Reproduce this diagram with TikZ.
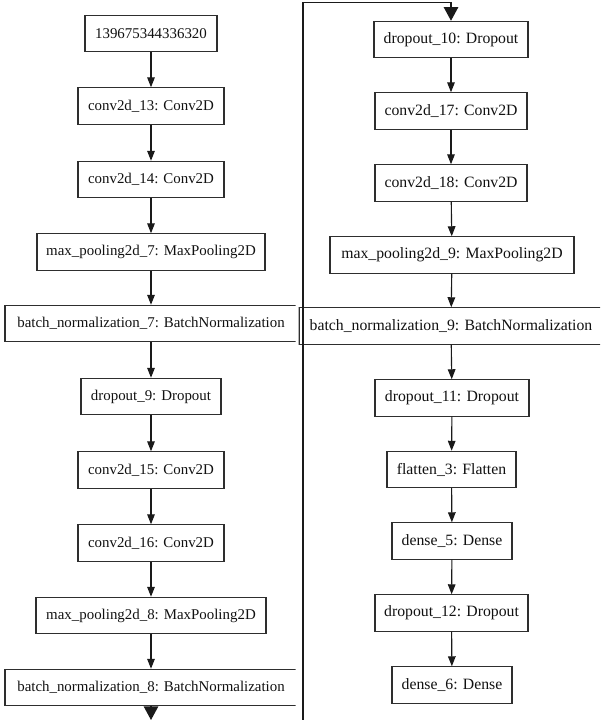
\documentclass[tikz,border=0pt]{standalone}
\usepackage{fontspec}
\setmainfont{Liberation Serif}
\newfontfamily\graphfont{Liberation Serif}
\usepackage{tikz}
\usetikzlibrary{arrows.meta}
\definecolor{GraphInk}{HTML}{111111}
\definecolor{GraphBorder}{HTML}{2E2E2E}
\definecolor{GraphEdge}{HTML}{1A1A1A}
\newcommand{\LeftLabel}{\graphfont\fontsize{10.6}{12.0}\selectfont}
\newcommand{\RightLabel}{\graphfont\fontsize{11.2}{12.6}\selectfont}
\tikzset{
  layer box/.style={draw=GraphBorder,line width=0.75pt,fill=white,text=GraphInk,
    inner sep=0pt,minimum height=0.91cm},
  flow edge/.style={draw=GraphEdge,line width=0.8pt,
    -{Triangle[length=0.25cm,width=0.19cm]}},
  cut edge/.style={draw=GraphEdge,line width=0.9pt,
    -{Triangle[length=0.34cm,width=0.36cm]}}
}

\begin{document}
\begin{tikzpicture}[x=0.025cm,y=-0.025cm]
  % pixel grid of the 600 x 720 collage, y running down
  \path[use as bounding box] (0,0) rectangle (600,720);

  \def\pxu{0.025cm}
  \def\colL{151}
  \def\colR{451}

  \newcommand{\layer}[5]{%
    \node[layer box,minimum width={#4*\pxu}] (#1) at (#2,#3) {#5};%
  }

  % left half of the model graph, cropped at its right side
  \begin{scope}[font=\LeftLabel]
    \clip (0,0) rectangle (295.5,720);
    \layer{inp}{\colL}{33.5}{132}{139675344336320}
    \layer{cA}{\colL}{106}{146}{conv2d\_13: Conv2D}
    \layer{cB}{\colL}{179.5}{146}{conv2d\_14: Conv2D}
    \layer{mpA}{\colL}{252}{228}{max\_pooling2d\_7: MaxPooling2D}
    \layer{bnA}{\colL}{323.5}{292}{batch\_normalization\_7: BatchNormalization}
    \layer{dA}{\colL}{396.5}{140}{dropout\_9: Dropout}
    \layer{cC}{\colL}{470}{146}{conv2d\_15: Conv2D}
    \layer{cD}{\colL}{543}{146}{conv2d\_16: Conv2D}
    \layer{mpB}{\colL}{615.5}{230}{max\_pooling2d\_8: MaxPooling2D}
    \layer{bnB}{\colL}{687.5}{292}{batch\_normalization\_8: BatchNormalization}

    \foreach \a/\b in {inp/cA,cA/cB,cB/mpA,mpA/bnA,bnA/dA,dA/cC,cC/cD,cD/mpB,mpB/bnB}
      \draw[flow edge] (\a) -- (\b);
    \coordinate (leftend) at (\colL,720);
    \draw[cut edge] (bnB) -- (leftend);
  \end{scope}

  % right half, continues from batch_normalization_8
  \begin{scope}[font=\RightLabel]
    \clip (298.5,0) rectangle (600,720);
    \layer{dB}{\colR}{39.5}{154}{dropout\_10: Dropout}
    \layer{cE}{\colR}{111}{152}{conv2d\_17: Conv2D}
    \layer{cF}{\colR}{183}{152}{conv2d\_18: Conv2D}
    \layer{mpC}{452}{255}{244}{max\_pooling2d\_9: MaxPooling2D}
    \layer{bnC}{\colR}{326}{304}{batch\_normalization\_9: BatchNormalization}
    \layer{dC}{452}{398}{154}{dropout\_11: Dropout}
    \layer{fl}{451.5}{469.5}{129}{flatten\_3: Flatten}
    \layer{dsA}{452}{541}{120}{dense\_5: Dense}
    \layer{dD}{451.5}{613}{153}{dropout\_12: Dropout}
    \layer{dsB}{452}{685}{120}{dense\_6: Dense}

    \foreach \a/\b in {dB/cE,cE/cF,cF/mpC,mpC/bnC,bnC/dC,dC/fl,fl/dsA,dsA/dD,dD/dsB}
      \draw[flow edge] (\a) -- (\b);
  \end{scope}

  % seam between the two halves, doubling as the wrap-around edge
  \coordinate (wrapfoot) at (303,720);
  \coordinate (wraptop) at (\colR,2.5);
  \draw[draw=GraphEdge,line width=0.9pt] (wrapfoot) |- (wraptop);
  \draw[cut edge] (wraptop) -- (dB);
\end{tikzpicture}
\end{document}
